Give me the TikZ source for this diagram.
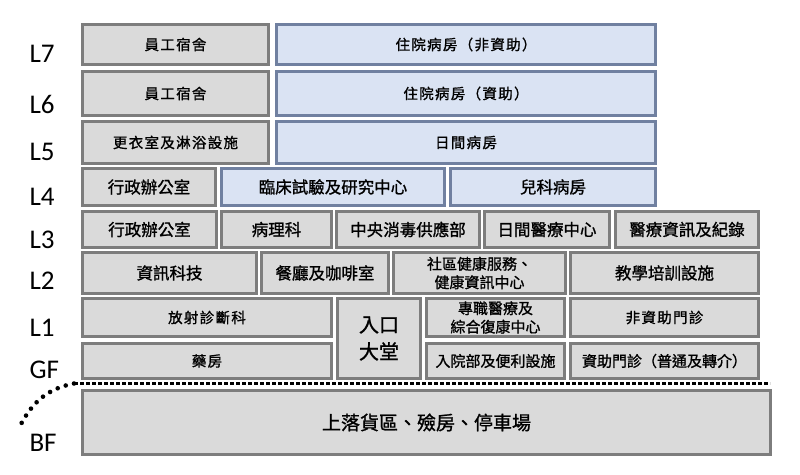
\documentclass[tikz,border=0pt]{standalone}
\usepackage{fontspec}
\setmainfont{Carlito}
\newfontfamily\cjkfont[FakeBold=1.2]{Noto Sans CJK TC}
\newfontfamily\cjkwide[FakeBold=1.2, LetterSpace=9]{Noto Sans CJK TC}
\usetikzlibrary{positioning}
\definecolor{roomgray}{RGB}{218,218,218}
\definecolor{roomedge}{RGB}{125,125,125}
\definecolor{wardblue}{RGB}{218,227,243}
\definecolor{wardedge}{RGB}{112,128,160}

\begin{document}
\begin{tikzpicture}[
    x=1pt, y=-1pt,
    graybox/.style={
        rectangle,
        draw=roomedge,
        fill=roomgray,
        line width=2.6pt,
        inner sep=0pt,
        align=center,
        font=\cjkfont\fontsize{16.5}{20}\selectfont
    },
    bluebox/.style={
        graybox,
        draw=wardedge,
        fill=wardblue
    },
    widetext/.style={font=\cjkwide\fontsize{14.5}{18}\selectfont},
    midtext/.style={font=\cjkfont\fontsize{15}{18.5}\selectfont},
    floorlabel/.style={anchor=west, font=\fontsize{27}{30}\selectfont},
    floorline/.style={line width=3.8pt, dash pattern=on 3.6pt off 2.4pt},
    curveline/.style={line width=4.6pt, line cap=round, dash pattern=on 0pt off 8.5pt}
]
\useasboundingbox (0,0) rectangle (800,474);

% Floor labels
\node[floorlabel] (lseven) at (26,54) {L7};
\node[floorlabel] (lsix) at (26,104) {L6};
\node[floorlabel] (lfive) at (26,152) {L5};
\node[floorlabel] (lfour) at (26,197) {L4};
\node[floorlabel] (lthree) at (26,240) {L3};
\node[floorlabel] (ltwo) at (26,281) {L2};
\node[floorlabel] (lone) at (26,328) {L1};
\node[floorlabel] (lground) at (26,370) {GF};
\node[floorlabel] (lbase) at (26,443) {BF};

% L7 - L5
\node[graybox, widetext, minimum width=186pt, minimum height=40pt] (staffseven) at (175.5,44.5) {員工宿舍};
\node[bluebox, widetext, minimum width=379pt, minimum height=40pt] (private) at (466,44.5) {住院病房（非資助）};
\node[graybox, widetext, minimum width=186pt, minimum height=44pt] (staffsix) at (175.5,93.5) {員工宿舍};
\node[bluebox, widetext, minimum width=379pt, minimum height=44pt] (subsidised) at (466,93.5) {住院病房（資助）};
\node[graybox, widetext, minimum width=186pt, minimum height=42pt] (changing) at (175.5,142.5) {更衣室及淋浴設施};
\node[bluebox, widetext, minimum width=379pt, minimum height=42pt] (dayward) at (466,142.5) {日間病房};

% L4
\node[graybox, minimum width=133pt, minimum height=37pt] (officefour) at (149,187) {行政辦公室};
\node[bluebox, minimum width=223pt, minimum height=37pt] (research) at (333,187) {臨床試驗及研究中心};
\node[bluebox, minimum width=205pt, minimum height=37pt] (paediatric) at (553,187) {兒科病房};

% L3
\node[graybox, minimum width=134pt, minimum height=36pt] (officethree) at (149.5,229.5) {行政辦公室};
\node[graybox, minimum width=110pt, minimum height=36pt] (pathology) at (276.5,229.5) {病理科};
\node[graybox, minimum width=143pt, minimum height=36pt] (sterile) at (408,229.5) {中央消毒供應部};
\node[graybox, minimum width=125pt, minimum height=36pt] (daycentre) at (547,229.5) {日間醫療中心};
\node[graybox, minimum width=143pt, minimum height=36pt] (records) at (687,229.5) {醫療資訊及紀錄};

% L2
\node[graybox, minimum width=174pt, minimum height=41pt] (itdept) at (169.5,273) {資訊科技};
\node[graybox, minimum width=127pt, minimum height=41pt] (cafe) at (325,273) {餐廳及咖啡室};
\node[graybox, midtext, minimum width=172pt, minimum height=41pt] (community) at (479.5,273) {社區健康服務、\\健康資訊中心};
\node[graybox, minimum width=188pt, minimum height=41pt] (training) at (664.5,273) {教學培訓設施};

% L1 and GF
\node[graybox, widetext, minimum width=249pt, minimum height=38pt] (radiology) at (207,317.5) {放射診斷科};
\node[graybox, font=\cjkfont\fontsize{20}{27}\selectfont, minimum width=83pt, minimum height=80pt] (lobby) at (379,338.5) {入口\\大堂};
\node[graybox, midtext, minimum width=138pt, minimum height=38pt] (rehab) at (495.5,317.5) {專職醫療及\\綜合復康中心};
\node[graybox, widetext, minimum width=188pt, minimum height=38pt] (privateclinic) at (664.5,317.5) {非資助門診};
\node[graybox, widetext, minimum width=249pt, minimum height=35pt] (pharmacy) at (207,361) {藥房};
\node[graybox, midtext, minimum width=138pt, minimum height=35pt] (admission) at (495.5,361) {入院部及便利設施};
\node[graybox, midtext, minimum width=188pt, minimum height=35pt] (clinic) at (664.5,361) {資助門診（普通及轉介）};

% Ground line
\coordinate (groundwest) at (74,383.5);
\coordinate (groundeast) at (770,383.5);
\coordinate (curveend) at (18,430);
\draw[floorline] (groundwest) -- (groundeast);
\draw[curveline] (groundwest) .. controls (45,389) and (30,405) .. (curveend);

% BF
\node[graybox, font=\cjkfont\fontsize{19}{22}\selectfont, minimum width=688pt, minimum height=64pt] (loading) at (426.5,422.5) {上落貨區、殮房、停車場};

\end{tikzpicture}
\end{document}
